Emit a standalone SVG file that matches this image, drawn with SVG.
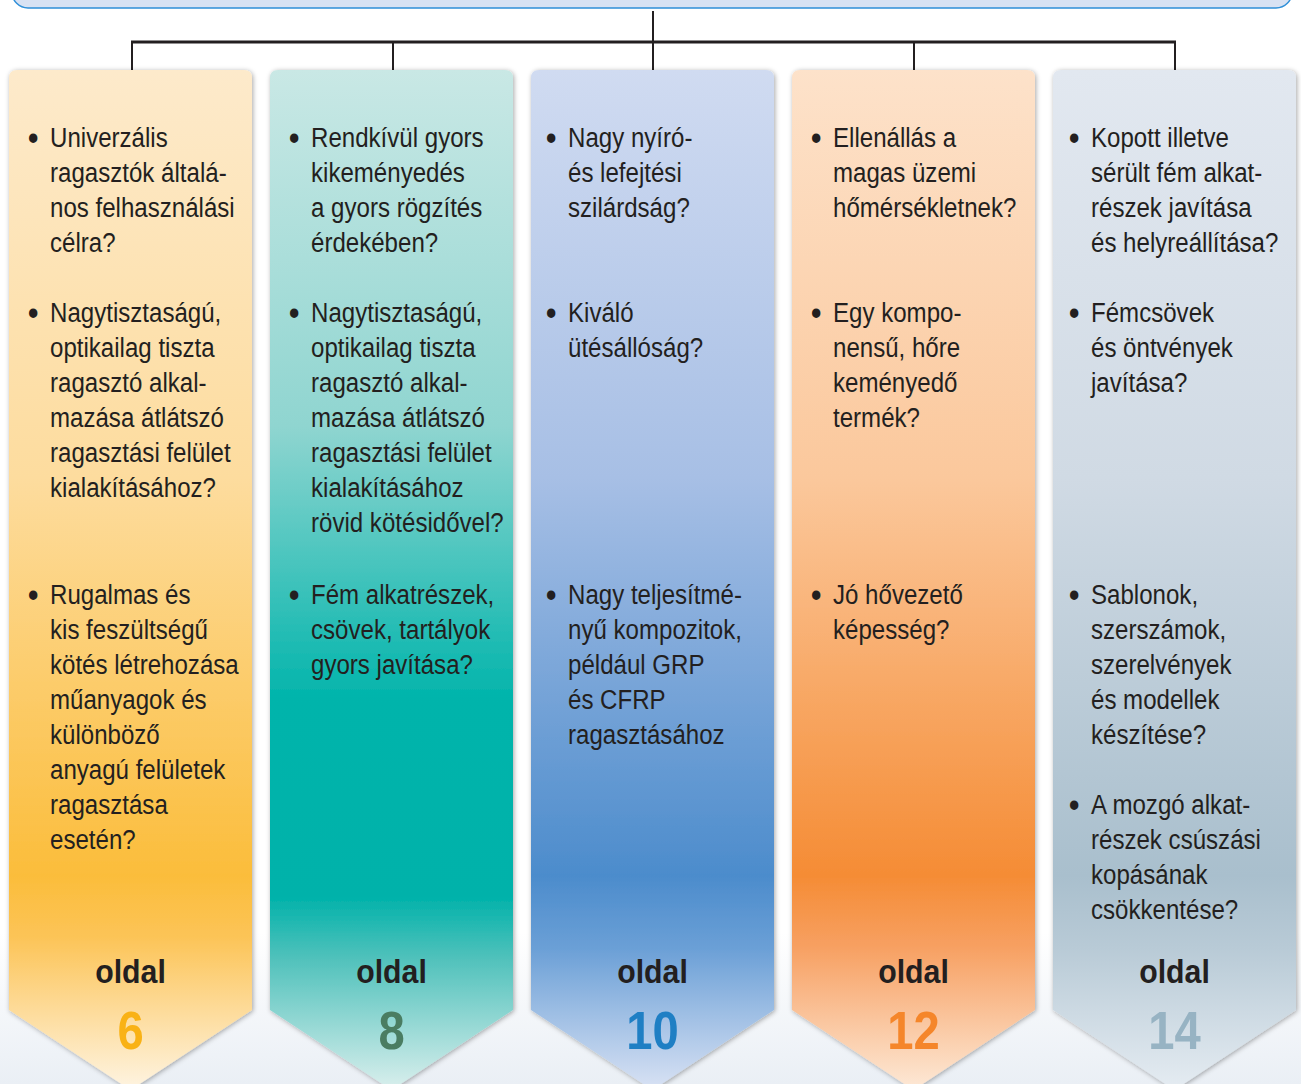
<svg xmlns="http://www.w3.org/2000/svg" width="1301" height="1084" viewBox="0 0 1301 1084">
<defs>
<style>
.t{font-family:"Liberation Sans",Arial,sans-serif;font-size:28px;fill:#231f20;}
.b{font-family:"Liberation Sans",Arial,sans-serif;font-size:36px;fill:#231f20;}
.o{font-family:"Liberation Sans",Arial,sans-serif;font-size:34px;font-weight:bold;fill:#231f20;text-anchor:middle;}
.n{font-family:"Liberation Sans",Arial,sans-serif;font-size:53px;font-weight:bold;text-anchor:middle;}
.ln{stroke:#231f20;fill:none;}
</style>
<linearGradient id="bg" x1="0" y1="0" x2="0" y2="1084" gradientUnits="userSpaceOnUse">
<stop offset="0" stop-color="#ffffff"/><stop offset="0.86" stop-color="#ffffff"/><stop offset="1" stop-color="#eaeff5"/>
</linearGradient>
<linearGradient id="g1" x1="0" y1="70" x2="0" y2="1090" gradientUnits="userSpaceOnUse">
<stop offset="0" stop-color="#fdeacb"/><stop offset="0.4" stop-color="#fddc9e"/><stop offset="0.79" stop-color="#fbbd3b"/><stop offset="0.85" stop-color="#fcc457"/><stop offset="1" stop-color="#fef4e2"/>
</linearGradient>
<linearGradient id="g2" x1="0" y1="70" x2="0" y2="1090" gradientUnits="userSpaceOnUse">
<stop offset="0" stop-color="#c9e8e5"/><stop offset="0.35" stop-color="#8fd5d0"/><stop offset="0.62" stop-color="#00b4ab"/><stop offset="0.81" stop-color="#00b2aa"/><stop offset="0.87" stop-color="#4fc1bb"/><stop offset="1" stop-color="#daefed"/>
</linearGradient>
<linearGradient id="g3" x1="0" y1="70" x2="0" y2="1090" gradientUnits="userSpaceOnUse">
<stop offset="0" stop-color="#d0dbf1"/><stop offset="0.4" stop-color="#a7bfe5"/><stop offset="0.79" stop-color="#4c8ccc"/><stop offset="0.86" stop-color="#6a9fd6"/><stop offset="1" stop-color="#d9e2f4"/>
</linearGradient>
<linearGradient id="g4" x1="0" y1="70" x2="0" y2="1090" gradientUnits="userSpaceOnUse">
<stop offset="0" stop-color="#fde2ca"/><stop offset="0.4" stop-color="#fbc89c"/><stop offset="0.79" stop-color="#f58c35"/><stop offset="0.86" stop-color="#f7a062"/><stop offset="1" stop-color="#fde9d7"/>
</linearGradient>
<linearGradient id="g5" x1="0" y1="70" x2="0" y2="1090" gradientUnits="userSpaceOnUse">
<stop offset="0" stop-color="#e2e8f0"/><stop offset="0.4" stop-color="#d0dae4"/><stop offset="0.79" stop-color="#a9bfcd"/><stop offset="0.86" stop-color="#b8cad6"/><stop offset="1" stop-color="#e5ecf2"/>
</linearGradient>
<filter id="sh" x="-10%" y="-5%" width="120%" height="110%">
<feDropShadow dx="1" dy="1" stdDeviation="2.5" flood-color="#000" flood-opacity="0.35"/>
</filter>
</defs>
<rect x="0" y="0" width="1301" height="1084" fill="url(#bg)"/>
<g id="title">
<rect x="12" y="-40" width="1280" height="48" rx="16" fill="#d8e2f3" stroke="#2f8fd8" stroke-width="1.5"/>
</g>
<g id="connectors" class="ln">
<line x1="653" y1="11" x2="653" y2="42" stroke-width="2"/>
<line x1="131" y1="42" x2="1176" y2="42" stroke-width="3"/>
<line x1="132" y1="42" x2="132" y2="70" stroke-width="2"/>
<line x1="393" y1="42" x2="393" y2="70" stroke-width="2"/>
<line x1="653" y1="42" x2="653" y2="70" stroke-width="2"/>
<line x1="914" y1="42" x2="914" y2="70" stroke-width="2"/>
<line x1="1175" y1="42" x2="1175" y2="70" stroke-width="2"/>
</g>

<g id="col1">
<path d="M9,78 Q9,70 17,70 L244,70 Q252,70 252,78 L252,1010 L130.5,1090 L9,1010 Z" fill="url(#g1)" filter="url(#sh)"/>
<g transform="translate(50,0) scale(0.86,1)">
<text class="b" x="-26" y="150">•</text>
<text class="t"><tspan x="0" y="147">Univerzális</tspan><tspan x="0" y="182">ragasztók általá-</tspan><tspan x="0" y="217">nos felhasználási</tspan><tspan x="0" y="252">célra?</tspan></text>
<text class="b" x="-26" y="325">•</text>
<text class="t"><tspan x="0" y="322">Nagytisztaságú,</tspan><tspan x="0" y="357">optikailag tiszta</tspan><tspan x="0" y="392">ragasztó alkal-</tspan><tspan x="0" y="427">mazása átlátszó</tspan><tspan x="0" y="462">ragasztási felület</tspan><tspan x="0" y="497">kialakításához?</tspan></text>
<text class="b" x="-26" y="607">•</text>
<text class="t"><tspan x="0" y="604">Rugalmas és</tspan><tspan x="0" y="639">kis feszültségű</tspan><tspan x="0" y="674">kötés létrehozása</tspan><tspan x="0" y="709">műanyagok és</tspan><tspan x="0" y="744">különböző</tspan><tspan x="0" y="779">anyagú felületek</tspan><tspan x="0" y="814">ragasztása</tspan><tspan x="0" y="849">esetén?</tspan></text>
</g>
<g transform="translate(130.5,0) scale(0.89,1)">
<text class="o" x="0" y="983">oldal</text>
<text class="n" x="0" y="1049" fill="#f9b216">6</text>
</g>
</g>

<g id="col2">
<path d="M270,78 Q270,70 278,70 L505,70 Q513,70 513,78 L513,1010 L391.5,1090 L270,1010 Z" fill="url(#g2)" filter="url(#sh)"/>
<g transform="translate(311,0) scale(0.86,1)">
<text class="b" x="-26" y="150">•</text>
<text class="t"><tspan x="0" y="147">Rendkívül gyors</tspan><tspan x="0" y="182">kikeményedés</tspan><tspan x="0" y="217">a gyors rögzítés</tspan><tspan x="0" y="252">érdekében?</tspan></text>
<text class="b" x="-26" y="325">•</text>
<text class="t"><tspan x="0" y="322">Nagytisztaságú,</tspan><tspan x="0" y="357">optikailag tiszta</tspan><tspan x="0" y="392">ragasztó alkal-</tspan><tspan x="0" y="427">mazása átlátszó</tspan><tspan x="0" y="462">ragasztási felület</tspan><tspan x="0" y="497">kialakításához</tspan><tspan x="0" y="532">rövid kötésidővel?</tspan></text>
<text class="b" x="-26" y="607">•</text>
<text class="t"><tspan x="0" y="604">Fém alkatrészek,</tspan><tspan x="0" y="639">csövek, tartályok</tspan><tspan x="0" y="674">gyors javítása?</tspan></text>
</g>
<g transform="translate(391.5,0) scale(0.89,1)">
<text class="o" x="0" y="983">oldal</text>
<text class="n" x="0" y="1049" fill="#4a7d62">8</text>
</g>
</g>

<g id="col3">
<path d="M531,78 Q531,70 539,70 L766,70 Q774,70 774,78 L774,1010 L652.5,1090 L531,1010 Z" fill="url(#g3)" filter="url(#sh)"/>
<g transform="translate(568,0) scale(0.86,1)">
<text class="b" x="-26" y="150">•</text>
<text class="t"><tspan x="0" y="147">Nagy nyíró-</tspan><tspan x="0" y="182">és lefejtési</tspan><tspan x="0" y="217">szilárdság?</tspan></text>
<text class="b" x="-26" y="325">•</text>
<text class="t"><tspan x="0" y="322">Kiváló</tspan><tspan x="0" y="357">ütésállóság?</tspan></text>
<text class="b" x="-26" y="607">•</text>
<text class="t"><tspan x="0" y="604">Nagy teljesítmé-</tspan><tspan x="0" y="639">nyű kompozitok,</tspan><tspan x="0" y="674">például GRP</tspan><tspan x="0" y="709">és CFRP</tspan><tspan x="0" y="744">ragasztásához</tspan></text>
</g>
<g transform="translate(652.5,0) scale(0.89,1)">
<text class="o" x="0" y="983">oldal</text>
<text class="n" x="0" y="1049" fill="#1f7fc4">10</text>
</g>
</g>

<g id="col4">
<path d="M792,78 Q792,70 800,70 L1027,70 Q1035,70 1035,78 L1035,1010 L913.5,1090 L792,1010 Z" fill="url(#g4)" filter="url(#sh)"/>
<g transform="translate(833,0) scale(0.86,1)">
<text class="b" x="-26" y="150">•</text>
<text class="t"><tspan x="0" y="147">Ellenállás a</tspan><tspan x="0" y="182">magas üzemi</tspan><tspan x="0" y="217">hőmérsékletnek?</tspan></text>
<text class="b" x="-26" y="325">•</text>
<text class="t"><tspan x="0" y="322">Egy kompo-</tspan><tspan x="0" y="357">nensű, hőre</tspan><tspan x="0" y="392">keményedő</tspan><tspan x="0" y="427">termék?</tspan></text>
<text class="b" x="-26" y="607">•</text>
<text class="t"><tspan x="0" y="604">Jó hővezető</tspan><tspan x="0" y="639">képesség?</tspan></text>
</g>
<g transform="translate(913.5,0) scale(0.89,1)">
<text class="o" x="0" y="983">oldal</text>
<text class="n" x="0" y="1049" fill="#f5862a">12</text>
</g>
</g>

<g id="col5">
<path d="M1053,78 Q1053,70 1061,70 L1288,70 Q1296,70 1296,78 L1296,1010 L1174.5,1090 L1053,1010 Z" fill="url(#g5)" filter="url(#sh)"/>
<g transform="translate(1091,0) scale(0.86,1)">
<text class="b" x="-26" y="150">•</text>
<text class="t"><tspan x="0" y="147">Kopott illetve</tspan><tspan x="0" y="182">sérült fém alkat-</tspan><tspan x="0" y="217">részek javítása</tspan><tspan x="0" y="252">és helyreállítása?</tspan></text>
<text class="b" x="-26" y="325">•</text>
<text class="t"><tspan x="0" y="322">Fémcsövek</tspan><tspan x="0" y="357">és öntvények</tspan><tspan x="0" y="392">javítása?</tspan></text>
<text class="b" x="-26" y="607">•</text>
<text class="t"><tspan x="0" y="604">Sablonok,</tspan><tspan x="0" y="639">szerszámok,</tspan><tspan x="0" y="674">szerelvények</tspan><tspan x="0" y="709">és modellek</tspan><tspan x="0" y="744">készítése?</tspan></text>
<text class="b" x="-26" y="817">•</text>
<text class="t"><tspan x="0" y="814">A mozgó alkat-</tspan><tspan x="0" y="849">részek csúszási</tspan><tspan x="0" y="884">kopásának</tspan><tspan x="0" y="919">csökkentése?</tspan></text>
</g>
<g transform="translate(1174.5,0) scale(0.89,1)">
<text class="o" x="0" y="983">oldal</text>
<text class="n" x="0" y="1049" fill="#97b3c3">14</text>
</g>
</g>
</svg>
